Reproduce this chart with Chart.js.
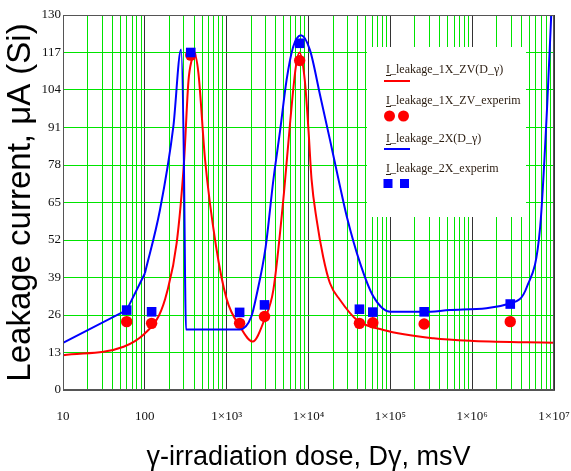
<!DOCTYPE html>
<html>
<head>
<meta charset="utf-8">
<script src="https://cdn.jsdelivr.net/npm/chart.js@4"></script>
<style>
  html, body { margin: 0; padding: 0; background: #fff; }
  #wrap { width: 571px; height: 471px; }
</style>
</head>
<body>
<div id="wrap"><canvas id="c" width="571" height="471"></canvas></div>
<script>
// ---- data ----
const doseRed = [10, 55, 100, 150, 185, 245, 301, 341, 374, 400, 451, 544, 740, 1000, 1460, 2080, 2900, 3720, 5000, 6000, 7000, 7750, 9000, 10000, 10900, 12600, 15100, 18300, 24300, 38900, 82400, 337000, 1040000, 10000000];
const leakRed = [12, 15, 19.6, 26, 33.5, 51, 79, 107, 114.4, 116.7, 110, 80, 50, 31.5, 21.9, 16.8, 24.5, 34.7, 68, 93.6, 112, 117, 107.5, 90, 73, 58.9, 46.2, 37, 31.2, 24.3, 20.8, 17.9, 17, 16.4];

const doseBlue = [10, 60, 100, 153, 223, 277, 300, 310, 318, 1460, 2000, 2300, 3000, 3720, 4500, 5400, 6500, 8100, 10400, 13900, 18300, 24300, 29400, 42800, 62100, 100000, 259000, 538000, 2900000, 4670000, 6780000, 8200000, 9250000];
const leakBlue = [16.3, 27.7, 40.4, 62.4, 91.3, 118, 80, 40, 21, 21, 25.4, 32.4, 49.7, 72.8, 90, 107.5, 119, 123, 117.9, 102, 86.7, 70.5, 60.1, 43.9, 32.4, 27.1, 27.1, 27.7, 30, 35.8, 56.6, 97, 130];
// the first points of the blue model are joined by straight segments in the reference
const blueStraightCount = 3;

const doseExp = [60, 121, 364, 1440, 2900, 7800, 41900, 61100, 259000, 2920000];
const leakRedExp = [23.7, 23.1, 116.1, 23.1, 25.5, 114.2, 23.1, 23.3, 22.9, 23.7];
const leakBlueExp = [27.7, 27.1, 117, 26.9, 29.5, 120.2, 28, 27, 27.1, 29.8];

const xDecades = [10, 100, 1000, 10000, 100000, 1000000, 10000000];
const xTickLabels = ['10', '100', '1×10³', '1×10⁴', '1×10⁵', '1×10⁶', '1×10⁷'];
const yTicks = [0, 13, 26, 39, 52, 65, 78, 91, 104, 117, 130];
const yTickLabels = ['0', '13', '26', '39', '52', '65', '78', '91', '104', '117', '130'];

const legendLabels = ['I_leakage_1X_ZV(D_γ)', 'I_leakage_1X_ZV_experim', 'I_leakage_2X(D_γ)', 'I_leakage_2X_experim'];
const xTitle = 'γ-irradiation dose, Dγ, msV';
const yTitle = 'Leakage current, μA (Si)';

// ---- helpers ----
const pts = (xs, ys) => xs.map((x, i) => ({ x: x, y: ys[i] }));
const isDecade = v => Math.abs(Math.log10(v) - Math.round(Math.log10(v))) < 1e-9;
const RED = '#ff0000', BLUE = '#0000ff', GREEN = '#00e400';
const bluePts = pts(doseBlue, leakBlue);

const legendPlugin = {
  id: 'mathcadLegend',
  afterDatasetsDraw(chart) {
    const ctx = chart.ctx;
    const a = chart.chartArea;
    ctx.save();
    // plot frame
    ctx.strokeStyle = '#555';
    ctx.lineWidth = 1;
    ctx.strokeRect(a.left + 0.5, a.top + 0.5, a.right - a.left - 1, a.bottom - a.top - 1);
    // legend box
    const bx = 367, by = 47;
    ctx.fillStyle = '#ffffff';
    ctx.fillRect(bx, by, 159, 170);
    ctx.font = '12px "Liberation Serif", "DejaVu Serif", serif';
    ctx.textBaseline = 'alphabetic';
    ctx.textAlign = 'left';
    const ys = [73, 104, 142, 172];
    legendLabels.forEach((t, i) => {
      ctx.fillStyle = '#2a1c10';
      ctx.fillText(t, 386, ys[i]);
      const w = ctx.measureText('I').width;
      ctx.fillRect(386, ys[i] + 2, w + 1, 1);
    });
    // line samples
    ctx.lineWidth = 2;
    ctx.strokeStyle = RED;
    ctx.beginPath(); ctx.moveTo(384, 81); ctx.lineTo(410, 81); ctx.stroke();
    ctx.strokeStyle = BLUE;
    ctx.beginPath(); ctx.moveTo(384, 149); ctx.lineTo(410, 149); ctx.stroke();
    // marker samples
    ctx.fillStyle = RED;
    [389.5, 403.5].forEach(x => { ctx.beginPath(); ctx.arc(x, 116, 5.5, 0, Math.PI * 2); ctx.fill(); });
    ctx.fillStyle = BLUE;
    [388, 404.5].forEach(x => ctx.fillRect(x - 4.5, 183.5 - 4.5, 9, 9));
    ctx.restore();
  }
};

new Chart(document.getElementById('c'), {
  type: 'scatter',
  data: {
    datasets: [
      { label: legendLabels[3], data: pts(doseExp, leakBlueExp), order: 0, showLine: false,
        pointStyle: 'rect', pointRadius: 6.8, pointBackgroundColor: BLUE, pointBorderWidth: 0, borderColor: BLUE },
      { label: legendLabels[2], data: bluePts.slice(blueStraightCount - 1), order: 1, showLine: true,
        borderColor: BLUE, borderWidth: 2, pointRadius: 0, cubicInterpolationMode: 'monotone' },
      { label: legendLabels[2], data: bluePts.slice(0, blueStraightCount), order: 1, showLine: true,
        borderColor: BLUE, borderWidth: 2, pointRadius: 0, tension: 0 },
      { label: legendLabels[1], data: pts(doseExp, leakRedExp), order: 2, showLine: false,
        pointStyle: 'circle', pointRadius: 5.7, pointBackgroundColor: RED, pointBorderWidth: 0, borderColor: RED },
      { label: legendLabels[0], data: pts(doseRed, leakRed), order: 3, showLine: true,
        borderColor: RED, borderWidth: 2, pointRadius: 0, cubicInterpolationMode: 'monotone' }
    ]
  },
  options: {
    responsive: false,
    animation: false,
    devicePixelRatio: 1,
    layout: { padding: { top: 15, right: 17, left: 0, bottom: 0 } },
    plugins: { legend: { display: false }, tooltip: { enabled: false } },
    scales: {
      x: {
        type: 'logarithmic',
        min: 10, max: 10000000,
        afterBuildTicks: s => {
          const t = [];
          xDecades.forEach((d, i) => {
            t.push({ value: d, major: true });
            if (i < xDecades.length - 1) for (let m = 2; m <= 9; m++) t.push({ value: d * m });
          });
          s.ticks = t;
        },
        afterFit: s => { s.height = 81; s.paddingLeft = 0; s.paddingRight = 0; },
        grid: {
          drawTicks: false,
          lineWidth: 1,
          color: c => (c.tick && isDecade(c.tick.value)) ? '#333' : GREEN
        },
        border: { display: true, color: '#555' },
        ticks: {
          autoSkip: false, maxRotation: 0, minRotation: 0, padding: 19,
          color: '#111',
          font: { family: '"Liberation Serif", "DejaVu Serif", serif', size: 13 },
          callback: v => { const i = xDecades.indexOf(v); return i >= 0 ? xTickLabels[i] : ''; }
        },
        title: {
          display: true, text: xTitle, color: '#000',
          font: { family: '"Liberation Sans", Arial, sans-serif', size: 27, lineHeight: 1 },
          padding: { top: 0, bottom: 0 }
        }
      },
      y: {
        type: 'linear',
        min: 0, max: 130,
        afterBuildTicks: s => { s.ticks = yTicks.map(v => ({ value: v })); },
        afterFit: s => { s.width = 63; s.paddingTop = 0; s.paddingBottom = 0; },
        grid: { drawTicks: false, lineWidth: 1, color: GREEN },
        border: { display: true, color: '#555' },
        ticks: {
          autoSkip: false, padding: 2, color: '#111',
          font: { family: '"Liberation Serif", "DejaVu Serif", serif', size: 13 },
          callback: v => { const i = yTicks.indexOf(v); return i >= 0 ? yTickLabels[i] : ''; }
        },
        title: {
          display: true, text: yTitle, color: '#000',
          font: { family: '"Liberation Sans", Arial, sans-serif', size: 33, lineHeight: 1.2 },
          padding: { top: 1, bottom: 0 }
        }
      }
    }
  },
  plugins: [legendPlugin]
});
</script>
</body>
</html>
